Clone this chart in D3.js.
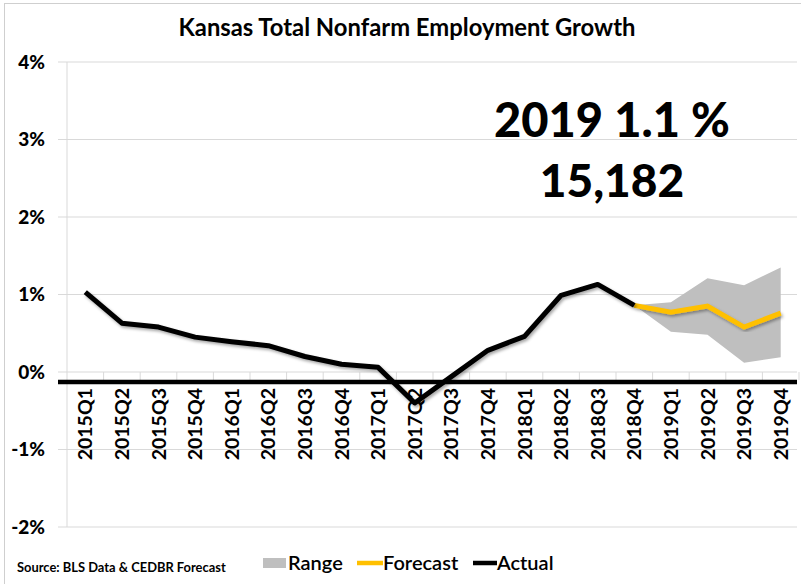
<!DOCTYPE html>
<html lang="en">
<head>
    <meta charset="UTF-8">
    <title>Kansas Total Nonfarm Employment Growth</title>
    <script src="https://cdn.jsdelivr.net/npm/d3@7"></script>
    <style>
        body { margin: 0; background: #fff; font-family: Lato, "Open Sans", sans-serif; }
        svg text { font-family: Lato, "Open Sans", sans-serif; }
    </style>
</head>
<body>
    <div id="chart"></div>
    <script>
        // quarters and values (percent growth)
        const quarters = ["2015Q1","2015Q2","2015Q3","2015Q4","2016Q1","2016Q2","2016Q3","2016Q4",
            "2017Q1","2017Q2","2017Q3","2017Q4","2018Q1","2018Q2","2018Q3","2018Q4",
            "2019Q1","2019Q2","2019Q3","2019Q4"];
        const actual = [1.03, 0.63, 0.58, 0.45, 0.39, 0.34, 0.20, 0.10, 0.06, -0.40,
            -0.06, 0.28, 0.46, 0.99, 1.13, 0.86, null, null, null, null];
        const forecast = [null, null, null, null, null, null, null, null, null, null,
            null, null, null, null, null, 0.86, 0.77, 0.85, 0.58, 0.76];
        const rangeLow = [null, null, null, null, null, null, null, null, null, null,
            null, null, null, null, null, 0.86, 0.52, 0.48, 0.12, 0.19];
        const rangeHigh = [null, null, null, null, null, null, null, null, null, null,
            null, null, null, null, null, 0.86, 0.90, 1.21, 1.12, 1.35];
        const yTicks = [-2, -1, 0, 1, 2, 3, 4];
        const axisLine = -0.13;

        const W = 801, H = 584;
        const svg = d3.select("#chart").append("svg")
            .attr("width", W)
            .attr("height", H);

        const defs = svg.append("defs");
        defs.append("filter").attr("id", "shadow")
            .attr("x", "-10%").attr("y", "-10%").attr("width", "120%").attr("height", "130%")
            .append("feDropShadow")
            .attr("dx", 1.5).attr("dy", 2).attr("stdDeviation", 1.5)
            .attr("flood-color", "#000").attr("flood-opacity", 0.35);

        // frame
        svg.append("rect")
            .attr("x", 4.5).attr("y", 3.5)
            .attr("width", W).attr("height", H)
            .attr("fill", "#fff")
            .attr("stroke", "#cfcfcf");

        const x = d3.scaleBand().domain(quarters).range([67, 799]).padding(0);
        const cx = q => x(q) + x.bandwidth() / 2;
        const y = d3.scaleLinear().domain([-2, 4]).range([527, 62]);

        // gridlines
        svg.append("g").selectAll("line")
            .data(yTicks)
            .join("line")
            .attr("x1", 58).attr("x2", 797)
            .attr("y1", d => y(d)).attr("y2", d => y(d))
            .attr("stroke", "#d9d9d9");

        // vertical axis line
        svg.append("line")
            .attr("x1", 67).attr("x2", 67)
            .attr("y1", y(4)).attr("y2", y(-2))
            .attr("stroke", "#d9d9d9");

        // category ticks on the zero line
        svg.append("g").selectAll("line")
            .data(quarters.slice(1).concat(["end"]))
            .join("line")
            .attr("x1", d => d === "end" ? 799 : x(d))
            .attr("x2", d => d === "end" ? 799 : x(d))
            .attr("y1", y(0)).attr("y2", y(0) + 8)
            .attr("stroke", "#d9d9d9");

        // y labels
        svg.append("g").selectAll("text")
            .data(yTicks)
            .join("text")
            .attr("x", 45)
            .attr("y", d => y(d))
            .attr("dy", "0.35em")
            .attr("text-anchor", "end")
            .attr("font-size", 19)
            .attr("font-weight", 900)
            .text(d => d + "%");

        // range area
        const idx = d3.range(quarters.length).filter(i => rangeLow[i] != null);
        const area = d3.area()
            .x(i => cx(quarters[i]))
            .y0(i => y(rangeLow[i]))
            .y1(i => y(rangeHigh[i]));
        svg.append("path")
            .datum(idx)
            .attr("fill", "#bfbfbf")
            .attr("d", area);

        // thick black baseline
        svg.append("line")
            .attr("x1", 58).attr("x2", 797)
            .attr("y1", y(axisLine)).attr("y2", y(axisLine))
            .attr("stroke", "#000")
            .attr("stroke-width", 4.5);

        // x labels
        svg.append("g").selectAll("text")
            .data(quarters)
            .join("text")
            .attr("transform", d => `translate(${cx(d)},388) rotate(-90)`)
            .attr("text-anchor", "end")
            .attr("dy", "0.36em")
            .attr("font-size", 19.5)
            .attr("font-weight", 700)
            .text(d => d);

        const line = d3.line()
            .defined(d => d.v != null)
            .x(d => cx(d.q))
            .y(d => y(d.v));

        svg.append("path")
            .datum(quarters.map((q, i) => ({q, v: forecast[i]})))
            .attr("fill", "none")
            .attr("stroke", "#ffc000")
            .attr("stroke-width", 5)
            .attr("filter", "url(#shadow)")
            .attr("d", line);

        svg.append("path")
            .datum(quarters.map((q, i) => ({q, v: actual[i]})))
            .attr("fill", "none")
            .attr("stroke", "#000")
            .attr("stroke-width", 5)
            .attr("stroke-linejoin", "round")
            .attr("filter", "url(#shadow)")
            .attr("d", line);

        // title
        svg.append("text")
            .attr("x", 407).attr("y", 36)
            .attr("text-anchor", "middle")
            .attr("font-size", 23.8)
            .attr("font-weight", 700)
            .text("Kansas Total Nonfarm Employment Growth");

        // annotation
        svg.append("text")
            .attr("x", 612).attr("y", 137)
            .attr("text-anchor", "middle")
            .attr("font-size", 47)
            .attr("font-weight", 900)
            .text("2019 1.1 %");
        svg.append("text")
            .attr("x", 612).attr("y", 197)
            .attr("text-anchor", "middle")
            .attr("font-size", 46)
            .attr("font-weight", 900)
            .text("15,182");

        // source
        svg.append("text")
            .attr("x", 17).attr("y", 572)
            .attr("font-size", 12.9)
            .attr("font-weight", 700)
            .text("Source: BLS Data & CEDBR Forecast");

        // legend
        const lg = svg.append("g").attr("transform", "translate(263,570)");
        lg.append("rect").attr("x", 0).attr("y", -12).attr("width", 23).attr("height", 10).attr("fill", "#bfbfbf");
        lg.append("text").attr("x", 25).attr("y", 0).attr("font-size", 20).attr("font-weight", 600).text("Range");
        lg.append("line").attr("x1", 94).attr("x2", 120).attr("y1", -7).attr("y2", -7)
            .attr("stroke", "#ffc000").attr("stroke-width", 4.5);
        lg.append("text").attr("x", 120).attr("y", 0).attr("font-size", 20).attr("font-weight", 600).text("Forecast");
        lg.append("line").attr("x1", 210).attr("x2", 234).attr("y1", -7).attr("y2", -7)
            .attr("stroke", "#000").attr("stroke-width", 4.5);
        lg.append("text").attr("x", 234).attr("y", 0).attr("font-size", 20).attr("font-weight", 600).text("Actual");
    </script>
</body>
</html>
